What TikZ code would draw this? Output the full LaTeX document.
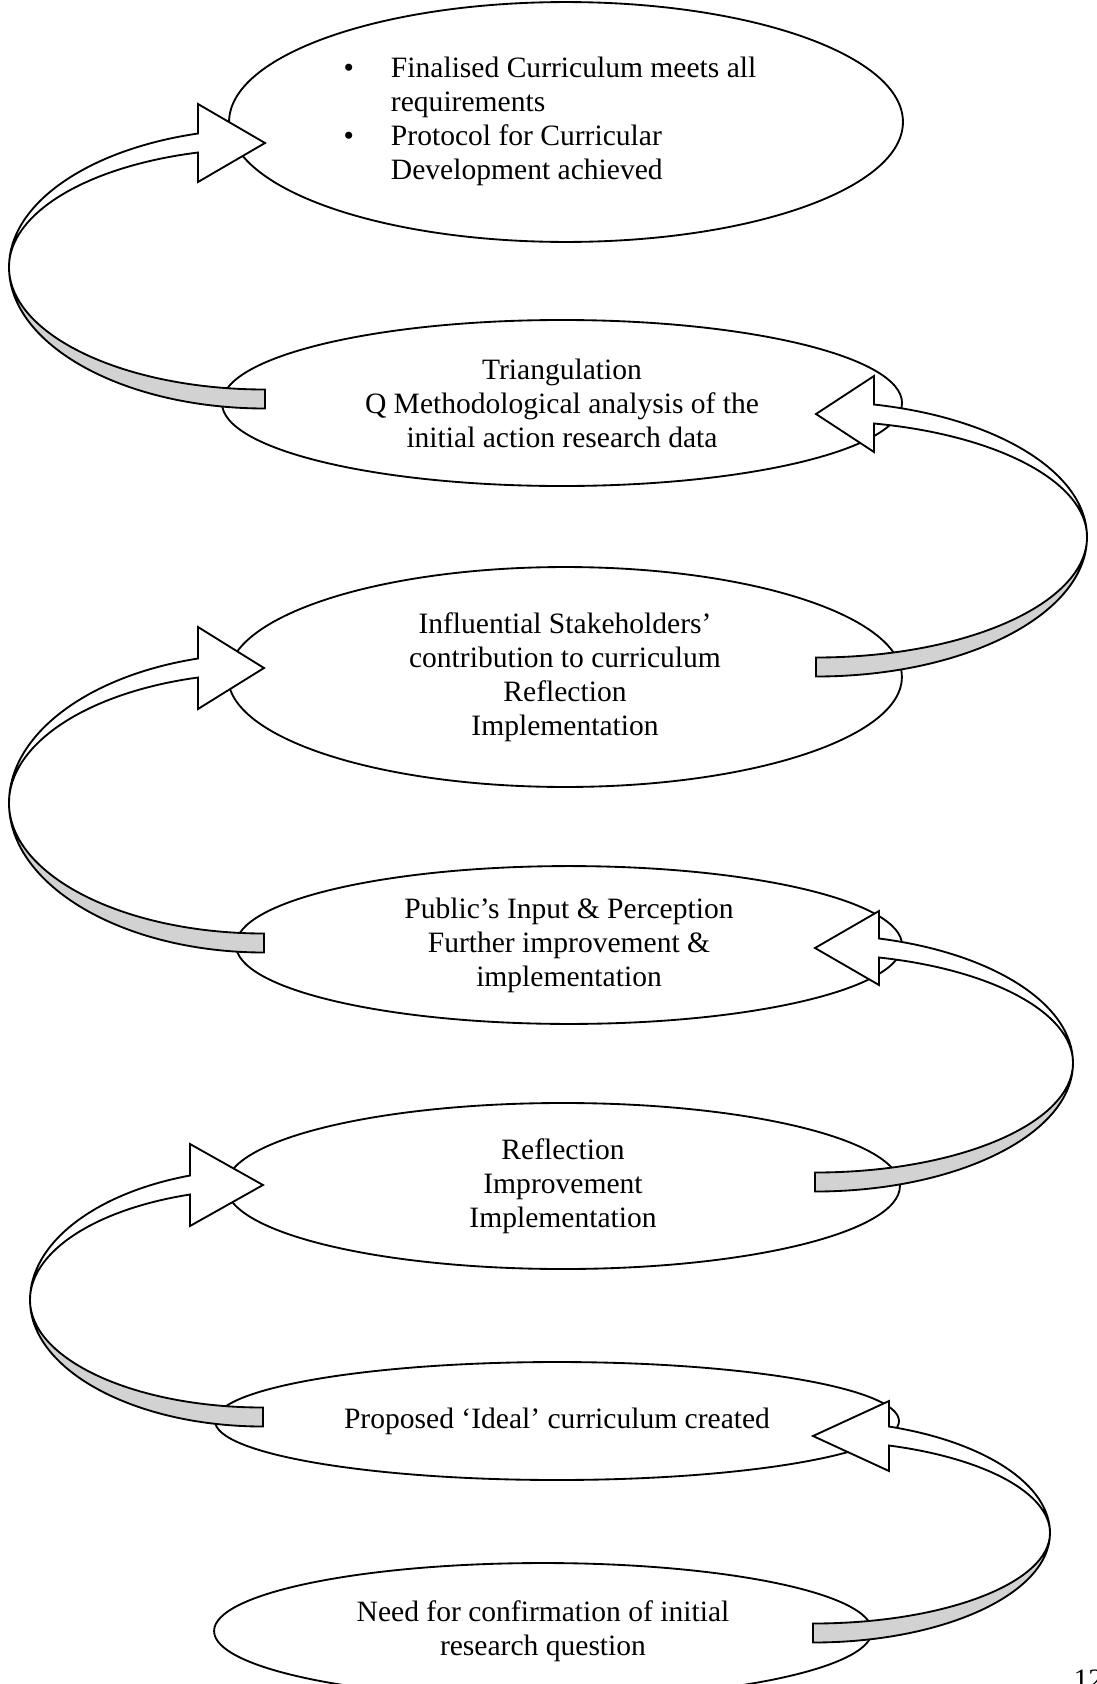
\documentclass[tikz,border=0pt]{standalone}
\usepackage{fontspec}
\setmainfont{Liberation Serif}
\usetikzlibrary{shapes.geometric}
\tikzset{
  stage/.style={ellipse, draw=black, line width=0.75pt, inner sep=0pt, align=center,
    font=\fontsize{12}{13.8}\selectfont},
  backband/.style={draw=black, line width=0.75pt, fill=gray!35},
  frontband/.style={draw=black, line width=0.75pt, fill=white, line join=miter}
}
% twisted band arrow: tail x, tail y, turn x, turn y, head base x, head y, head half height
\newcommand{\bandarrow}[7]{%
  \pgfmathsetmacro{\bandrx}{#1-(#3)}%
  \pgfmathsetmacro{\bandal}{acos((#1-(#5))/\bandrx)}%
  \pgfmathsetmacro{\bandlo}{#2+9.5-(#4)}%
  \pgfmathsetmacro{\bandli}{#2-9.5-(#4)}%
  \pgfmathsetmacro{\banduo}{((#4)-(#6)+9.5)/sin(\bandal)}%
  \pgfmathsetmacro{\bandui}{((#4)-(#6)-9.5)/sin(\bandal)}%
  \filldraw[backband] (#1,#2+9.5) arc[start angle=90, end angle=180, x radius=\bandrx, y radius=\bandlo]
    arc[start angle=180, end angle=90, x radius=\bandrx, y radius=\bandli] -- cycle;
  \filldraw[frontband] (#3,#4) arc[start angle=180, end angle=180+\bandal, x radius=\bandrx, y radius=\banduo]
    -- (#5,#6-#7) -- (#1,#6) -- (#5,#6+#7) -- (#5,#6+9.5)
    arc[start angle=180+\bandal, end angle=180, x radius=\bandrx, y radius=\bandui] -- cycle;
}

\begin{document}
\begin{tikzpicture}[x=0.406pt, y=-0.406pt]
  \useasboundingbox (0,0) rectangle (1097,1684);
  \node[stage, minimum width=273.6pt, minimum height=97.4pt] (goal) at (566,122)
    {\begin{tabular}{@{}l@{\hspace{15pt}}l@{}}
      \textbullet & Finalised Curriculum meets all\\
                  & requirements\\
      \textbullet & Protocol for Curricular\\
                  & Development achieved
     \end{tabular}\hspace{13pt}};
  \node[stage, minimum width=276.1pt, minimum height=67.4pt] (triang) at (562,403)
    {Triangulation\\Q Methodological analysis of the\\initial action research data};
  \node[stage, minimum width=273.6pt, minimum height=89.3pt] (stake) at (565,677)
    {Influential Stakeholders’\\contribution to curriculum\\Reflection\\Implementation};
  \node[stage, minimum width=270.4pt, minimum height=64.1pt] (public) at (569,945)
    {Public’s Input \& Perception\\Further improvement \&\\implementation};
  \node[stage, minimum width=273.6pt, minimum height=67.4pt] (reflect) at (563,1186)
    {Reflection\\Improvement\\Implementation};
  \node[stage, minimum width=277.7pt, minimum height=47.9pt] (ideal) at (557,1421)
    {Proposed ‘Ideal’ curriculum created};
  \node[stage, minimum width=267.1pt, minimum height=55.2pt] (need) at (543,1631)
    {Need for confirmation of initial\\research question};

  % left loops
  \bandarrow{265}{399}{9}{267}{198}{143}{39}
  \bandarrow{264}{943}{9}{803}{198}{668}{41}
  \bandarrow{263}{1417}{30}{1300}{190}{1185}{41}
  % right loops
  \begin{scope}[xscale=-1]
    \bandarrow{-816}{667}{-1087}{537}{-874}{414}{38}
    \bandarrow{-815}{1182}{-1073}{1063}{-879}{948}{37}
    \bandarrow{-813}{1633}{-1050}{1533}{-889}{1436}{35}
  \end{scope}

  \node[font=\fontsize{12}{13.8}\selectfont, inner sep=0pt, anchor=north west] (page) at (1073,1669) {12};
\end{tikzpicture}
\end{document}
